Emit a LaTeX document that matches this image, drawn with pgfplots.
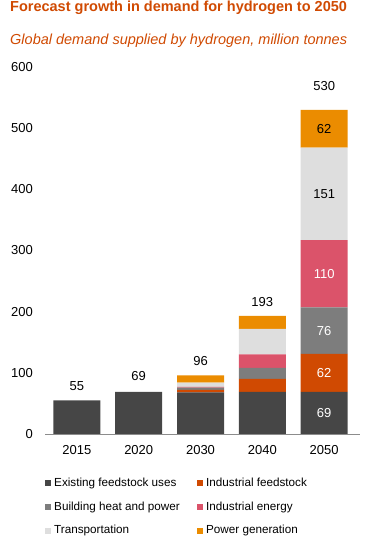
\documentclass[border=0pt]{standalone}
\usepackage{fontspec}
\setmainfont{Liberation Sans}
\usepackage{pgfplots}
\usepackage{pgfplotstable}
\pgfplotsset{compat=1.18}
\definecolor{pwcorange}{HTML}{D04A02}
\definecolor{exfeed}{HTML}{464646}
\definecolor{indfeed}{HTML}{D04A02}
\definecolor{bldheat}{HTML}{7D7D7D}
\definecolor{indenergy}{HTML}{DB536A}
\definecolor{transp}{HTML}{DEDEDE}
\definecolor{powgen}{HTML}{EB8C00}
\definecolor{axisgray}{HTML}{8C8C8C}
\pgfplotstableread{
x ex indf bld inde tr pg
0 55 0 0 0 0 0
1 69 0 0 0 0 0
2 68 4 4 1 7 12
3 69 21 18 22 42 21
4 69 62 76 110 151 62
}\hdata
\tikzset{vlab/.style={font=\fontsize{13}{15}\selectfont, inner sep=0pt}}
\begin{document}
\begin{tikzpicture}
\path[use as bounding box] (0,0) rectangle (385pt,540pt);
\node[anchor=base west, inner sep=0pt, text=pwcorange, font=\fontsize{14.5}{17}\selectfont\bfseries] at (10pt,528.3pt) {Forecast growth in demand for hydrogen to 2050};
\node[anchor=base west, inner sep=0pt, text=pwcorange, font=\fontsize{14.5}{17}\selectfont\itshape] at (10pt,495.7pt) {Global demand supplied by hydrogen, million tonnes};
\begin{axis}[
  at={(45pt,106pt)}, anchor=south west,
  scale only axis, width=315pt, height=367pt,
  xmin=-0.516, xmax=4.58, ymin=0, ymax=600,
  ybar stacked, bar width=47pt,
  axis x line*=bottom, axis y line*=left,
  x axis line style={-, draw=axisgray, line width=0.8pt},
  y axis line style={draw=none},
  major tick length=0pt, tick style={draw=none},
  xtick={0,1,2,3,4}, xticklabels={2015,2020,2030,2040,2050},
  ytick={0,100,...,600},
  /pgf/number format/assume math mode=true,
  ticklabel style={font=\fontsize{13}{15}\selectfont, inner sep=0pt},
  yticklabel style={xshift=-12pt},
  xticklabel style={anchor=north, yshift=-11pt},
  legend columns=2,
  legend cell align=left,
  legend image code/.code={\fill[#1] (0pt,-3pt) rectangle (6pt,3pt);},
  legend style={at={(axis description cs:0,-0.1193)}, anchor=north west,
    draw=none, fill=none, inner sep=0pt, column sep=0pt, row sep=12.7pt,
    /tikz/every even column/.append style={column sep=14.4pt},
    font=\fontsize{11.7}{14}\selectfont,
    nodes={inner xsep=3pt, inner ysep=0pt, text height=8.5pt, text depth=2.5pt}},
]
\addplot[fill=exfeed, draw=none] table[x=x, y=ex] {\hdata};
\addlegendentry{Existing feedstock uses}
\addplot[fill=indfeed, draw=none] table[x=x, y=indf] {\hdata};
\addlegendentry{Industrial feedstock}
\addplot[fill=bldheat, draw=none] table[x=x, y=bld] {\hdata};
\addlegendentry{Building heat and power}
\addplot[fill=indenergy, draw=none] table[x=x, y=inde] {\hdata};
\addlegendentry{Industrial energy}
\addplot[fill=transp, draw=none] table[x=x, y=tr] {\hdata};
\addlegendentry{Transportation}
\addplot[fill=powgen, draw=none] table[x=x, y=pg] {\hdata};
\addlegendentry{Power generation}
\node[vlab] at (axis cs:0,55) [yshift=14pt] {55};
\node[vlab] at (axis cs:1,69) [yshift=16pt] {69};
\node[vlab] at (axis cs:2,96) [yshift=14pt] {96};
\node[vlab] at (axis cs:3,193) [yshift=14.3pt] {193};
\node[vlab] at (axis cs:4,530) [yshift=24pt] {530};
\coordinate (s1) at (axis cs:4,34.5);
\coordinate (s2) at (axis cs:4,100);
\coordinate (s3) at (axis cs:4,169);
\coordinate (s4) at (axis cs:4,262);
\coordinate (s5) at (axis cs:4,392.5);
\coordinate (s6) at (axis cs:4,499);
\end{axis}
\node[vlab, text=white] at (s1) {69};
\node[vlab, text=white] at (s2) {62};
\node[vlab, text=white] at (s3) {76};
\node[vlab, text=white] at (s4) {110};
\node[vlab] at (s5) {151};
\node[vlab] at (s6) {62};
\end{tikzpicture}
\end{document}
